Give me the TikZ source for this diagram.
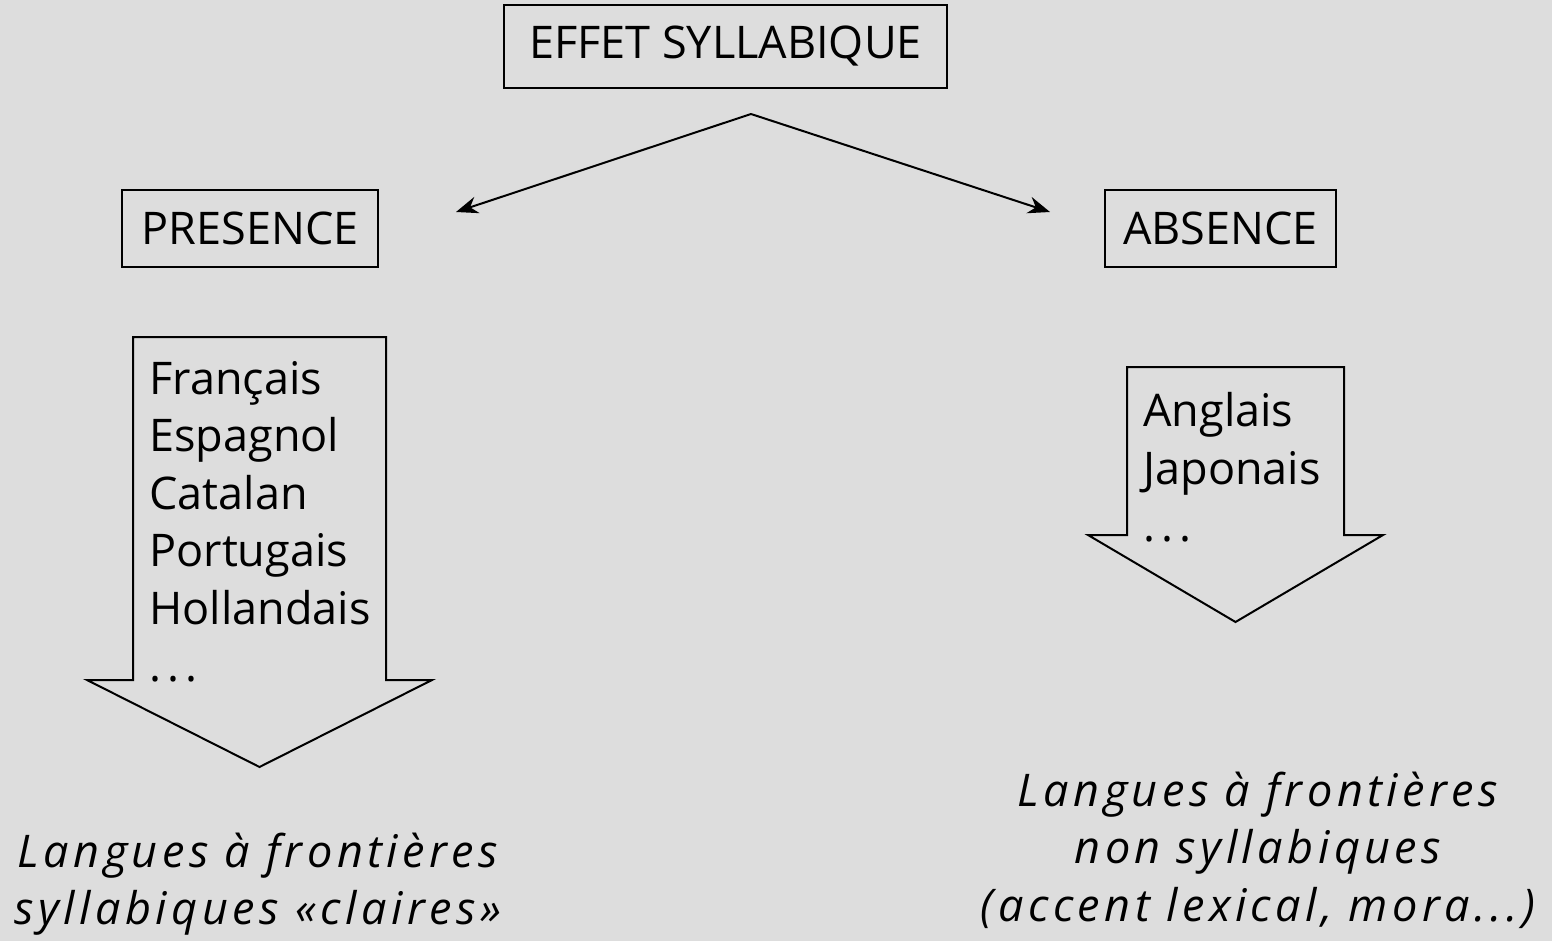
\documentclass[tikz,border=0pt]{standalone}
\usepackage{fontspec}
\setmainfont{Open Sans}
\usetikzlibrary{arrows.meta}
\definecolor{fond}{HTML}{DDDDDD}
\newcommand{\pts}{.\kern3pt.\kern3pt.}
\tikzset{
	boite/.style={draw, line width=1pt, inner sep=0pt},
	fleche/.style={line width=1pt, -{Stealth[length=11pt,width=8.5pt]}},
	bloc/.style={draw, line width=1pt},
	liste/.style={align=left, inner sep=0pt, anchor=north west},
	conclu/.style={align=center, inner sep=0pt, font=\itshape\addfontfeatures{LetterSpace=10}}
}
\begin{document}
\begin{tikzpicture}[x=0.5pt, y=-0.5pt]
	\fontsize{22.5}{28.75}\selectfont
	\fill[fond] (0,0) rectangle (1552,941);
	\useasboundingbox (0,0) rectangle (1552,941);
	% titre et branches
	\node[boite, minimum width=221.5pt, minimum height=41.5pt] (effet) at (725.5,46.5) {EFFET SYLLABIQUE};
	\node[boite, minimum width=128pt, minimum height=38.5pt] (presence) at (250,228.5) {PRESENCE};
	\node[boite, minimum width=115.5pt, minimum height=38.5pt] (absence) at (1220.5,228.5) {ABSENCE};
	\coordinate (sommet) at (751,114);
	\coordinate (finG) at (456,212);
	\coordinate (finD) at (1050,212);
	\draw[fleche] (sommet) -- (finG);
	\draw[fleche] (sommet) -- (finD);
	% grosses fleches
	\draw[bloc] (133,337) -- (386,337) -- (386,680) -- (432,680) -- (259.5,767) -- (87,680) -- (133,680) -- cycle;
	\draw[bloc] (1127,367) -- (1344,367) -- (1344,535) -- (1383,535) -- (1235.5,622) -- (1088,535) -- (1127,535) -- cycle;
	\node[liste] (langP) at (149,361) {Français\\Espagnol\\Catalan\\Portugais\\Hollandais\\\pts};
	\node[liste] (langA) at (1143,392) {Anglais\\Japonais\\\pts};
	% conclusions
	\node[conclu] (concluP) at (258,884) {Langues à frontières\\syllabiques «claires»};
	\node[conclu] (concluA) at (1258,850) {Langues à frontières\\non syllabiques\\(accent lexical, mora...)};
\end{tikzpicture}
\end{document}
